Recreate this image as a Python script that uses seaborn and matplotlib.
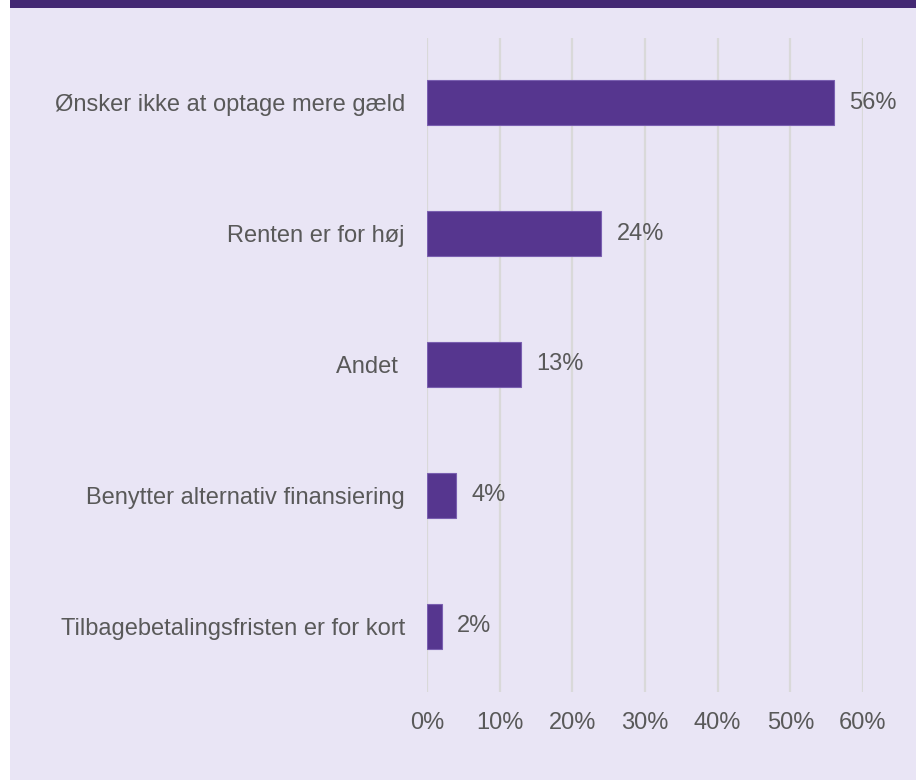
import pandas as pd
import seaborn as sns
import matplotlib.pyplot as plt
from matplotlib.patches import Rectangle
from matplotlib.ticker import PercentFormatter

sns.set_style("white")
plt.rcParams['font.family'] = ['Liberation Sans', 'DejaVu Sans']

# %% Data

reasons = [
    'Ønsker ikke at optage mere gæld',
    'Renten er for høj',
    'Andet ',
    'Benytter alternativ finansiering',
    'Tilbagebetalingsfristen er for kort',
]
shares = [56, 24, 13, 4, 2]
ticks = [0, 10, 20, 30, 40, 50, 60]

df = pd.DataFrame({'Reason': reasons, 'Share': shares})

bg = '#E9E5F5'
bar_color = '#56368F'
text_color = '#595959'

# %% Plot

fig = plt.figure(figsize=(9.16, 7.8), dpi=100, facecolor='white')
fig.patches.append(Rectangle((10 / 916, 0), 1, 1, transform=fig.transFigure,
                             facecolor=bg, edgecolor='none', zorder=-2))
fig.patches.append(Rectangle((10 / 916, 1 - 8 / 780), 1, 8 / 780, transform=fig.transFigure,
                             facecolor='#432873', edgecolor='none', zorder=-1))

ax = fig.add_axes([427 / 916, 88.5 / 780, (863 - 427) / 916, (742.5 - 88.5) / 780])
ax.set_facecolor('none')

sns.barplot(data=df, x='Share', y='Reason', color=bar_color, saturation=1, width=0.345,
            edgecolor='#7A5FB0', linewidth=0.8, ax=ax, zorder=3)

for cont in ax.containers:
    ax.bar_label(cont, labels=[f'{v}%' for v in shares], padding=11,
                 fontsize=17, color=text_color)

ax.set_xlim(0, 60)
ax.set_xticks(ticks)
ax.xaxis.set_major_formatter(PercentFormatter(decimals=0))
ax.grid(axis='x', color='#D9D9D9', linewidth=1.6, zorder=0)
ax.set_axisbelow(True)
ax.tick_params(axis='x', length=0, pad=15, labelsize=17, labelcolor=text_color)
ax.tick_params(axis='y', length=0, pad=16, labelsize=17, labelcolor=text_color)
ax.set_xlabel('')
ax.set_ylabel('')
sns.despine(ax=ax, left=True, bottom=True)

plt.savefig('out.png', dpi=100, facecolor=fig.get_facecolor())
